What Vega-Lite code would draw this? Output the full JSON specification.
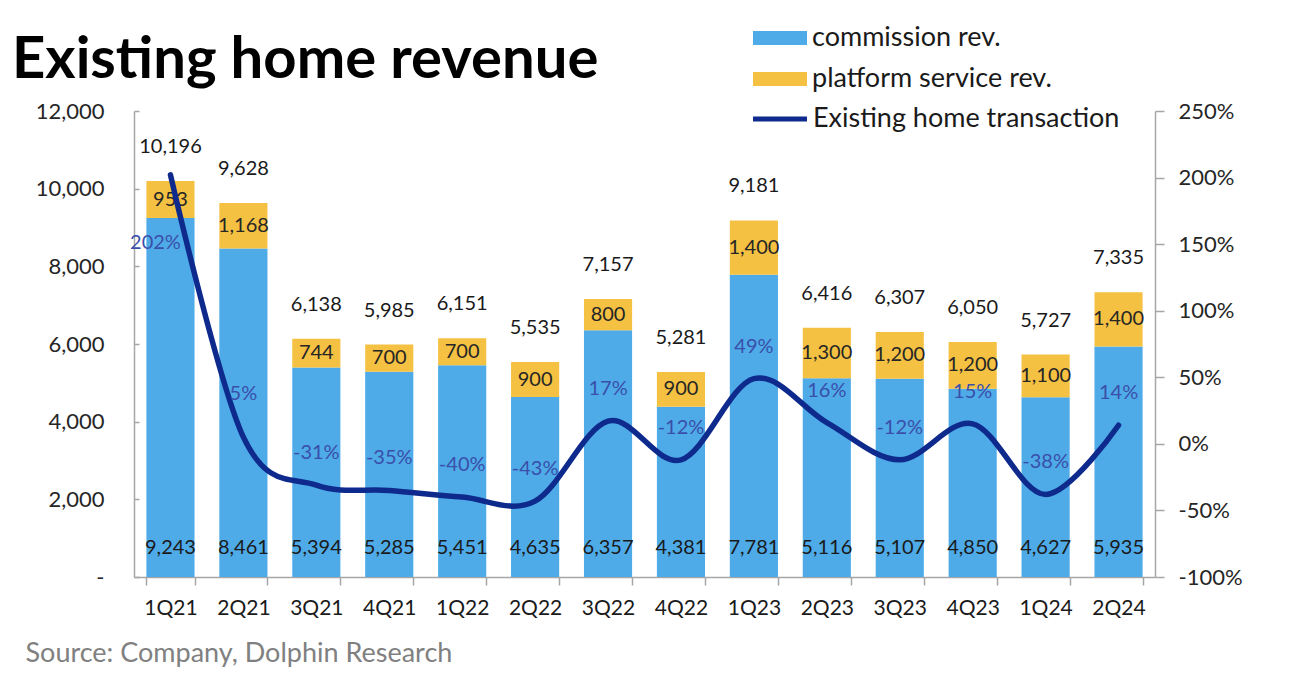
{
  "$schema": "https://vega.github.io/schema/vega-lite/v6.json",
  "width": 1021,
  "height": 466,
  "autosize": {"type": "none"},
  "padding": {"left": 134, "top": 111, "right": 135, "bottom": 103},
  "background": "white",
  "config": {
    "font": "Lato",
    "view": {"stroke": null},
    "locale": {"number": {"decimal": ".", "thousands": ",", "grouping": [3], "currency": ["$", ""], "minus": "-"}}
  },
  "title": {"text": "Existing home revenue", "font": "Lato", "fontSize": 58, "fontWeight": "bold", "color": "#000000", "anchor": "start", "frame": "group", "dx": -122, "dy": 149, "baseline": "alphabetic", "offset": 31},
  "datasets": {
    "rev": [
      {"q": "1Q21", "type": "commission rev.", "value": 9243},
      {"q": "1Q21", "type": "platform service rev.", "value": 953},
      {"q": "2Q21", "type": "commission rev.", "value": 8461},
      {"q": "2Q21", "type": "platform service rev.", "value": 1168},
      {"q": "3Q21", "type": "commission rev.", "value": 5394},
      {"q": "3Q21", "type": "platform service rev.", "value": 744},
      {"q": "4Q21", "type": "commission rev.", "value": 5285},
      {"q": "4Q21", "type": "platform service rev.", "value": 700},
      {"q": "1Q22", "type": "commission rev.", "value": 5451},
      {"q": "1Q22", "type": "platform service rev.", "value": 700},
      {"q": "2Q22", "type": "commission rev.", "value": 4635},
      {"q": "2Q22", "type": "platform service rev.", "value": 900},
      {"q": "3Q22", "type": "commission rev.", "value": 6357},
      {"q": "3Q22", "type": "platform service rev.", "value": 800},
      {"q": "4Q22", "type": "commission rev.", "value": 4381},
      {"q": "4Q22", "type": "platform service rev.", "value": 900},
      {"q": "1Q23", "type": "commission rev.", "value": 7781},
      {"q": "1Q23", "type": "platform service rev.", "value": 1400},
      {"q": "2Q23", "type": "commission rev.", "value": 5116},
      {"q": "2Q23", "type": "platform service rev.", "value": 1300},
      {"q": "3Q23", "type": "commission rev.", "value": 5107},
      {"q": "3Q23", "type": "platform service rev.", "value": 1200},
      {"q": "4Q23", "type": "commission rev.", "value": 4850},
      {"q": "4Q23", "type": "platform service rev.", "value": 1200},
      {"q": "1Q24", "type": "commission rev.", "value": 4627},
      {"q": "1Q24", "type": "platform service rev.", "value": 1100},
      {"q": "2Q24", "type": "commission rev.", "value": 5935},
      {"q": "2Q24", "type": "platform service rev.", "value": 1400}
    ],
    "qs": [
      {"q": "1Q21", "commission": 9243, "total": 10196, "yoy": 2.02},
      {"q": "2Q21", "commission": 8461, "total": 9628, "yoy": 0.05},
      {"q": "3Q21", "commission": 5394, "total": 6138, "yoy": -0.31},
      {"q": "4Q21", "commission": 5285, "total": 5985, "yoy": -0.35},
      {"q": "1Q22", "commission": 5451, "total": 6151, "yoy": -0.40},
      {"q": "2Q22", "commission": 4635, "total": 5535, "yoy": -0.43},
      {"q": "3Q22", "commission": 6357, "total": 7157, "yoy": 0.17},
      {"q": "4Q22", "commission": 4381, "total": 5281, "yoy": -0.12},
      {"q": "1Q23", "commission": 7781, "total": 9181, "yoy": 0.49},
      {"q": "2Q23", "commission": 5116, "total": 6416, "yoy": 0.16},
      {"q": "3Q23", "commission": 5107, "total": 6307, "yoy": -0.12},
      {"q": "4Q23", "commission": 4850, "total": 6050, "yoy": 0.15},
      {"q": "1Q24", "commission": 4627, "total": 5727, "yoy": -0.38},
      {"q": "2Q24", "commission": 5935, "total": 7335, "yoy": 0.14}
    ]
  },
  "encoding": {
    "x": {
      "field": "q", "type": "nominal", "sort": null,
      "scale": {"paddingInner": 0.34, "paddingOuter": 0.17},
      "axis": {
        "title": "Source: Company, Dolphin Research",
        "titleX": -109, "titleY": 76, "titleAlign": "left", "titleAnchor": "start", "titleBaseline": "middle",
        "titleFontSize": 27, "titleFontWeight": "normal", "titleColor": "#808080", "titleFont": "Lato",
        "labelAngle": 0, "labelFontSize": 21, "labelColor": "#1a1a1a", "labelPadding": 12,
        "tickBand": "extent", "tickSize": 8, "tickColor": "#a6a6a6", "tickWidth": 1.5,
        "domainColor": "#a6a6a6", "domainWidth": 1.5
      }
    }
  },
  "layer": [
    {
      "layer": [
        {
          "data": {"name": "rev"},
          "mark": {"type": "bar"},
          "encoding": {
            "y": {
              "field": "value", "type": "quantitative", "stack": "zero",
              "scale": {"domain": [0, 12000], "nice": false},
              "axis": {
                "orient": "left", "title": null, "grid": false,
                "values": [0, 2000, 4000, 6000, 8000, 10000, 12000],
                "labelExpr": "datum.value === 0 ? '-' : format(datum.value, ',')",
                "labelFontSize": 22, "labelColor": "#262626",
                "tickSize": -5, "labelPadding": 35, "tickColor": "#a6a6a6", "tickWidth": 1.5,
                "domainColor": "#a6a6a6", "domainWidth": 1.5
              }
            },
            "order": {"field": "type", "type": "nominal", "sort": "ascending"},
            "fill": {
              "field": "type", "type": "nominal",
              "scale": {"domain": ["commission rev.", "platform service rev."], "range": ["#4EABE8", "#F5C142"]},
              "legend": {
                "orient": "none", "legendX": 626, "legendY": -93, "title": null, "padding": 0,
                "symbolType": "M-1.35,-0.35H1.35V0.35H-1.35Z", "symbolSize": 1600, "symbolStrokeWidth": 0,
                "labelFontSize": 27, "labelColor": "#1a1a1a", "labelFont": "Lato", "labelOffset": 12, "rowPadding": 8, "labelLimit": 400
              }
            }
          }
        },
        {
          "data": {"name": "rev"},
          "mark": {"type": "text", "fontSize": 20, "color": "#262626", "baseline": "middle"},
          "encoding": {
            "y": {"field": "value", "type": "quantitative", "stack": "zero", "bandPosition": 0.5},
            "detail": {"field": "type", "type": "nominal"},
            "order": {"field": "type", "type": "nominal", "sort": "ascending"},
            "text": {
              "condition": {"test": "datum.type === 'commission rev.'", "value": ""},
              "field": "value", "type": "quantitative", "format": ","
            }
          }
        },
        {
          "data": {"name": "qs"},
          "mark": {"type": "text", "fontSize": 20, "color": "#1a1a1a", "baseline": "middle", "dy": -29},
          "encoding": {
            "y": {"datum": 0, "type": "quantitative"},
            "text": {"field": "commission", "type": "quantitative", "format": ","}
          }
        },
        {
          "data": {"name": "qs"},
          "mark": {"type": "text", "fontSize": 20, "color": "#1a1a1a", "baseline": "middle", "dy": -34},
          "encoding": {
            "y": {"field": "total", "type": "quantitative"},
            "text": {"field": "total", "type": "quantitative", "format": ","}
          }
        }
      ]
    },
    {
      "layer": [
        {
          "data": {"name": "qs"},
          "mark": {"type": "line", "interpolate": "cardinal", "strokeWidth": 5.5, "strokeCap": "round", "strokeJoin": "round"},
          "encoding": {
            "y": {
              "field": "yoy", "type": "quantitative",
              "scale": {"domain": [-1, 2.5], "nice": false},
              "axis": {
                "orient": "right", "title": null, "grid": false,
                "values": [-1, -0.5, 0, 0.5, 1, 1.5, 2, 2.5], "format": ".0%",
                "labelFontSize": 22, "labelColor": "#262626",
                "tickSize": 9, "labelPadding": 14, "tickColor": "#a6a6a6", "tickWidth": 1.5,
                "domainColor": "#a6a6a6", "domainWidth": 1.5
              }
            },
            "stroke": {
              "datum": "Existing home transaction", "type": "nominal",
              "scale": {"range": ["#0E2A8C"]},
              "legend": {
                "orient": "none", "legendX": 623.5, "legendY": -14.5, "title": null, "padding": 0,
                "symbolType": "M-1.35,0H1.35", "symbolSize": 1600, "symbolStrokeWidth": 5,
                "labelFontSize": 27, "labelColor": "#1a1a1a", "labelFont": "Lato", "labelOffset": 10.5, "labelLimit": 400
              }
            }
          }
        },
        {
          "data": {"name": "qs"},
          "transform": [{"filter": "datum.q !== '1Q21' && datum.q !== '2Q21'"}],
          "mark": {"type": "text", "fontSize": 20, "color": "#3A4FAA", "baseline": "middle", "dy": -32},
          "encoding": {
            "y": {"field": "yoy", "type": "quantitative"},
            "text": {"field": "yoy", "type": "quantitative", "format": ".0%"}
          }
        },
        {
          "data": {"name": "qs"},
          "transform": [{"filter": "datum.q === '2Q21'"}],
          "mark": {"type": "text", "fontSize": 20, "color": "#3A4FAA", "baseline": "middle", "dy": -43},
          "encoding": {
            "y": {"field": "yoy", "type": "quantitative"},
            "text": {"field": "yoy", "type": "quantitative", "format": ".0%"}
          }
        },
        {
          "data": {"name": "qs"},
          "transform": [{"filter": "datum.q === '1Q21'"}],
          "mark": {"type": "text", "fontSize": 20, "color": "#3A4FAA", "baseline": "middle", "dx": -15, "dy": 68},
          "encoding": {
            "y": {"field": "yoy", "type": "quantitative"},
            "text": {"field": "yoy", "type": "quantitative", "format": ".0%"}
          }
        }
      ]
    }
  ],
  "resolve": {"scale": {"y": "independent"}}
}
